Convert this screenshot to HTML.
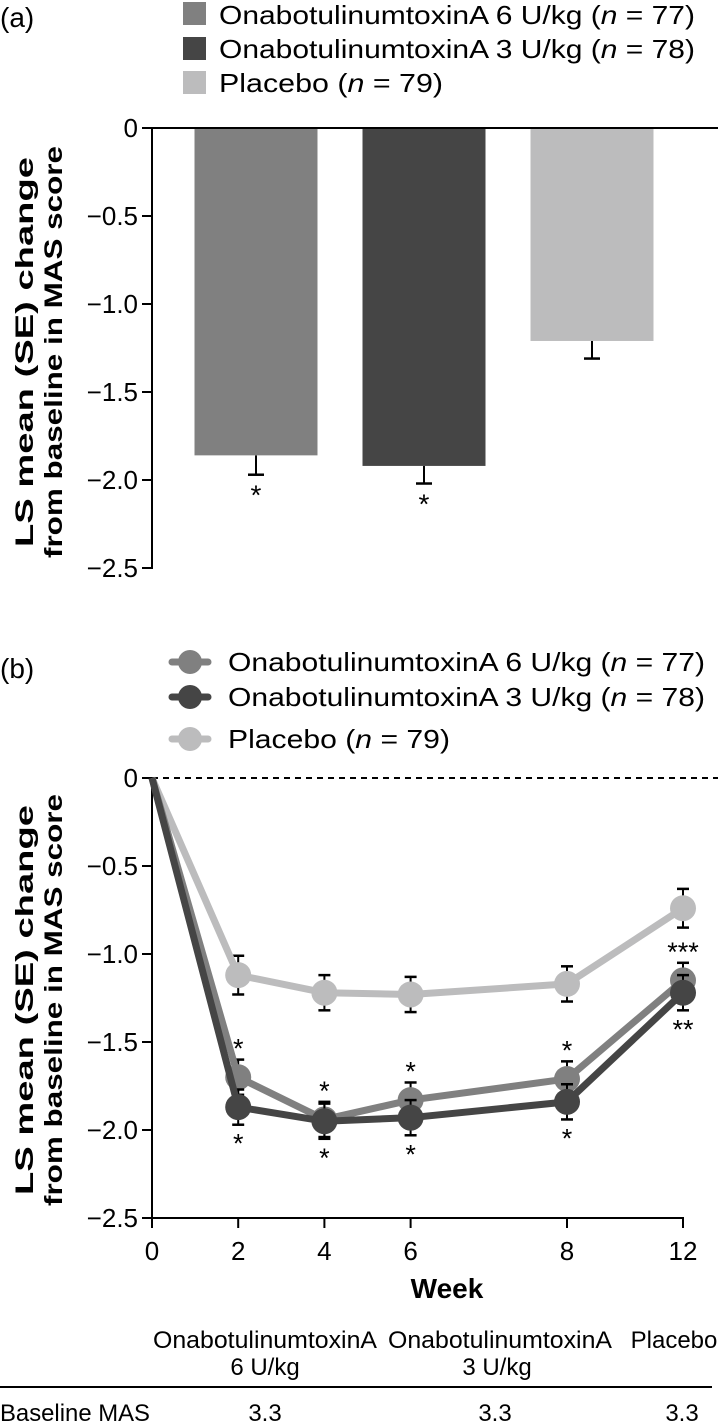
<!DOCTYPE html>
<html><head><meta charset="utf-8"><style>
html,body{margin:0;padding:0;background:#fff;}
svg{display:block;font-family:"Liberation Sans",Arial,sans-serif;}
</style></head><body>
<svg id="s" width="718" height="1424" viewBox="0 0 718 1424" xmlns="http://www.w3.org/2000/svg">
<text x="0" y="27" font-size="28">(a)</text>
<text x="0" y="678" font-size="28">(b)</text>
<g font-size="26">
<rect x="183" y="2" width="23" height="23" fill="#808080"/>
<text x="219" y="24" textLength="476" lengthAdjust="spacingAndGlyphs">OnabotulinumtoxinA 6 U/kg (<tspan font-style="italic">n</tspan> = 77)</text>
<rect x="183" y="37" width="23" height="23" fill="#454545"/>
<text x="219" y="58" textLength="476" lengthAdjust="spacingAndGlyphs">OnabotulinumtoxinA 3 U/kg (<tspan font-style="italic">n</tspan> = 78)</text>
<rect x="183" y="71" width="23" height="23" fill="#bcbcbd"/>
<text x="219" y="92" textLength="224" lengthAdjust="spacingAndGlyphs">Placebo (<tspan font-style="italic">n</tspan> = 79)</text>
</g>
<g font-size="26">
<line x1="172" y1="662" x2="208" y2="662" stroke="#808080" stroke-width="7" stroke-linecap="round"/><circle cx="190" cy="662" r="12" fill="#808080"/>
<text x="228" y="671" textLength="477" lengthAdjust="spacingAndGlyphs">OnabotulinumtoxinA 6 U/kg (<tspan font-style="italic">n</tspan> = 77)</text>
<line x1="172" y1="697" x2="208" y2="697" stroke="#454545" stroke-width="7" stroke-linecap="round"/><circle cx="190" cy="697" r="12" fill="#454545"/>
<text x="228" y="706" textLength="477" lengthAdjust="spacingAndGlyphs">OnabotulinumtoxinA 3 U/kg (<tspan font-style="italic">n</tspan> = 78)</text>
<line x1="172" y1="739" x2="208" y2="739" stroke="#bcbcbd" stroke-width="7" stroke-linecap="round"/><circle cx="190" cy="739" r="12" fill="#bcbcbd"/>
<text x="228" y="748" textLength="222" lengthAdjust="spacingAndGlyphs">Placebo (<tspan font-style="italic">n</tspan> = 79)</text>
</g>
<text transform="translate(33,352) rotate(-90)" text-anchor="middle" font-size="25" font-weight="bold"><tspan x="0" y="0" textLength="390" lengthAdjust="spacingAndGlyphs">LS mean (SE) change</tspan><tspan x="0" y="29" textLength="412" lengthAdjust="spacingAndGlyphs">from baseline in MAS score</tspan></text>
<text transform="translate(33,1000) rotate(-90)" text-anchor="middle" font-size="25" font-weight="bold"><tspan x="0" y="0" textLength="390" lengthAdjust="spacingAndGlyphs">LS mean (SE) change</tspan><tspan x="0" y="29" textLength="412" lengthAdjust="spacingAndGlyphs">from baseline in MAS score</tspan></text>
<text x="447" y="1298" text-anchor="middle" font-size="28" font-weight="bold">Week</text>
<g font-size="24">
<text x="265" y="1348" text-anchor="middle" textLength="224" lengthAdjust="spacingAndGlyphs">OnabotulinumtoxinA</text>
<text x="265" y="1375" text-anchor="middle">6 U/kg</text>
<text x="500" y="1348" text-anchor="middle" textLength="224" lengthAdjust="spacingAndGlyphs">OnabotulinumtoxinA</text>
<text x="497" y="1375" text-anchor="middle">3 U/kg</text>
<text x="674" y="1348" text-anchor="middle">Placebo</text>
<line x1="0" y1="1387" x2="712" y2="1387" stroke="#000" stroke-width="2"/>
<text x="0" y="1421" textLength="150" lengthAdjust="spacingAndGlyphs">Baseline MAS</text>
<text x="265" y="1421" text-anchor="middle">3.3</text>
<text x="495" y="1421" text-anchor="middle">3.3</text>
<text x="682" y="1421" text-anchor="middle">3.3</text>
</g>
<g id="ga"></g><g id="gb"></g>
</svg>
<script>
const yTicks=[0,-0.5,-1.0,-1.5,-2.0,-2.5];
const yTickLabels=["0","\u22120.5","\u22121.0","\u22121.5","\u22122.0","\u22122.5"];
const barGroups=["6u","3u","placebo"];
const barValues=[-1.86,-1.92,-1.21];
const barErrors=[0.11,0.10,0.10];
const barSig=["*","*",""];
const weeks=[0,2,4,6,8,12];
const weekLabels=["0","2","4","6","8","12"];
const series6u=[0,-1.70,-1.94,-1.83,-1.71,-1.15];
const series3u=[0,-1.87,-1.95,-1.93,-1.84,-1.22];
const seriesPlacebo=[0,-1.12,-1.22,-1.23,-1.17,-0.74];
const err6u=[0,0.10,0.10,0.10,0.10,0.10];
const err3u=[0,0.10,0.10,0.10,0.10,0.10];
const errPlacebo=[0,0.11,0.10,0.10,0.10,0.11];
const sig6u=["","*","*","*","*","***"];
const sig3u=["","*","*","*","*","**"];
const NS="http://www.w3.org/2000/svg";
function mk(p,t,a){const e=document.createElementNS(NS,t);for(const k in a)e.setAttribute(k,a[k]);p.appendChild(e);return e;}
const ya=v=>128-v*176;
const yb=v=>778-v*176;
function xb(w){
 if(w<=6)return 152+w*43.1;
 if(w<=8)return 410.6+(w-6)*78.2;
 return 567+(w-8)*29;
}
const ga=document.getElementById('ga'),gb=document.getElementById('gb');
const colors={"6u":"#808080","3u":"#454545","placebo":"#bcbcbd"};
function yAxis(g,ys,top,bot,name){
 const ax=mk(g,'line',{x1:152,y1:top,x2:152,y2:bot,stroke:'#000','stroke-width':2});
 
 yTicks.forEach((t,i)=>{const y=ys(t);
  mk(g,'line',{x1:142,y1:y,x2:152,y2:y,stroke:'#000','stroke-width':2});
  const tx=mk(g,'text',{x:138,y:y+9,'text-anchor':'end','font-size':26});tx.textContent=yTickLabels[i];
  });
}
yAxis(ga,ya,127,569,'y-axis-a');
const bw=123,cx0=256,step=168;
barGroups.forEach((g,i)=>{
 const cx=cx0+i*step,v=barValues[i];
 const eb=ya(v-barErrors[i]);
 mk(ga,'line',{x1:cx,y1:ya(v),x2:cx,y2:eb,stroke:'#000','stroke-width':2});
 mk(ga,'line',{x1:cx-8,y1:eb,x2:cx+8,y2:eb,stroke:'#000','stroke-width':2.5});
 const r=mk(ga,'rect',{x:cx-bw/2,y:ya(0),width:bw,height:ya(v)-ya(0),fill:colors[g]});
 
 if(barSig[i]){const t=mk(ga,'text',{x:cx,y:eb+30,'text-anchor':'middle','font-size':28});t.textContent=barSig[i];
  }
});
const za=mk(ga,'line',{x1:152,y1:ya(0),x2:718,y2:ya(0),stroke:'#000','stroke-width':2});

yAxis(gb,yb,777,1219,'y-axis-b');
const xa=mk(gb,'line',{x1:151,y1:1218,x2:xb(12)+1,y2:1218,stroke:'#000','stroke-width':2});

weeks.forEach((w,i)=>{const x=xb(w);
 mk(gb,'line',{x1:x,y1:1218,x2:x,y2:1228,stroke:'#000','stroke-width':2});
 const t=mk(gb,'text',{x:x,y:1260,'text-anchor':'middle','font-size':26});t.textContent=weekLabels[i];
 });
const zl=mk(gb,'line',{x1:152,y1:yb(0),x2:718,y2:yb(0),stroke:'#000','stroke-width':2,'stroke-dasharray':'6,5'});

function drawSeries(key,vals,errs){
 const g=mk(gb,'g',{});
 vals.forEach((v,i)=>{if(!errs[i])return;const x=xb(weeks[i]);
  [v+errs[i],v-errs[i]].forEach(e=>{mk(g,'line',{x1:x,y1:yb(v),x2:x,y2:yb(e),stroke:'#000','stroke-width':2});
   mk(g,'line',{x1:x-6,y1:yb(e),x2:x+6,y2:yb(e),stroke:'#000','stroke-width':2.5});});});
 const pts=vals.map((v,i)=>xb(weeks[i])+','+yb(v)).join(' ');
 const pl=mk(g,'polyline',{points:pts,fill:'none',stroke:colors[key],'stroke-width':7,'stroke-linejoin':'round'});
 
 vals.forEach((v,i)=>{if(i===0)return;const c=mk(g,'circle',{cx:xb(weeks[i]),cy:yb(v),r:13,fill:colors[key]});
  });
 return g;
}
drawSeries('placebo',seriesPlacebo,errPlacebo);
drawSeries('6u',series6u,err6u);
drawSeries('3u',series3u,err3u);
function sig(vals,errs,sigs,above,key){
 vals.forEach((v,i)=>{if(!sigs[i])return;const x=xb(weeks[i]);
  const y=above?yb(v+errs[i])-2:yb(v-errs[i])+28;
  const t=mk(gb,'text',{x:x,y:y,'text-anchor':'middle','font-size':27});t.textContent=sigs[i];
  });
}
sig(series6u,err6u,sig6u,true,'6u');
sig(series3u,err3u,sig3u,false,'3u');
</script>
</body></html>
